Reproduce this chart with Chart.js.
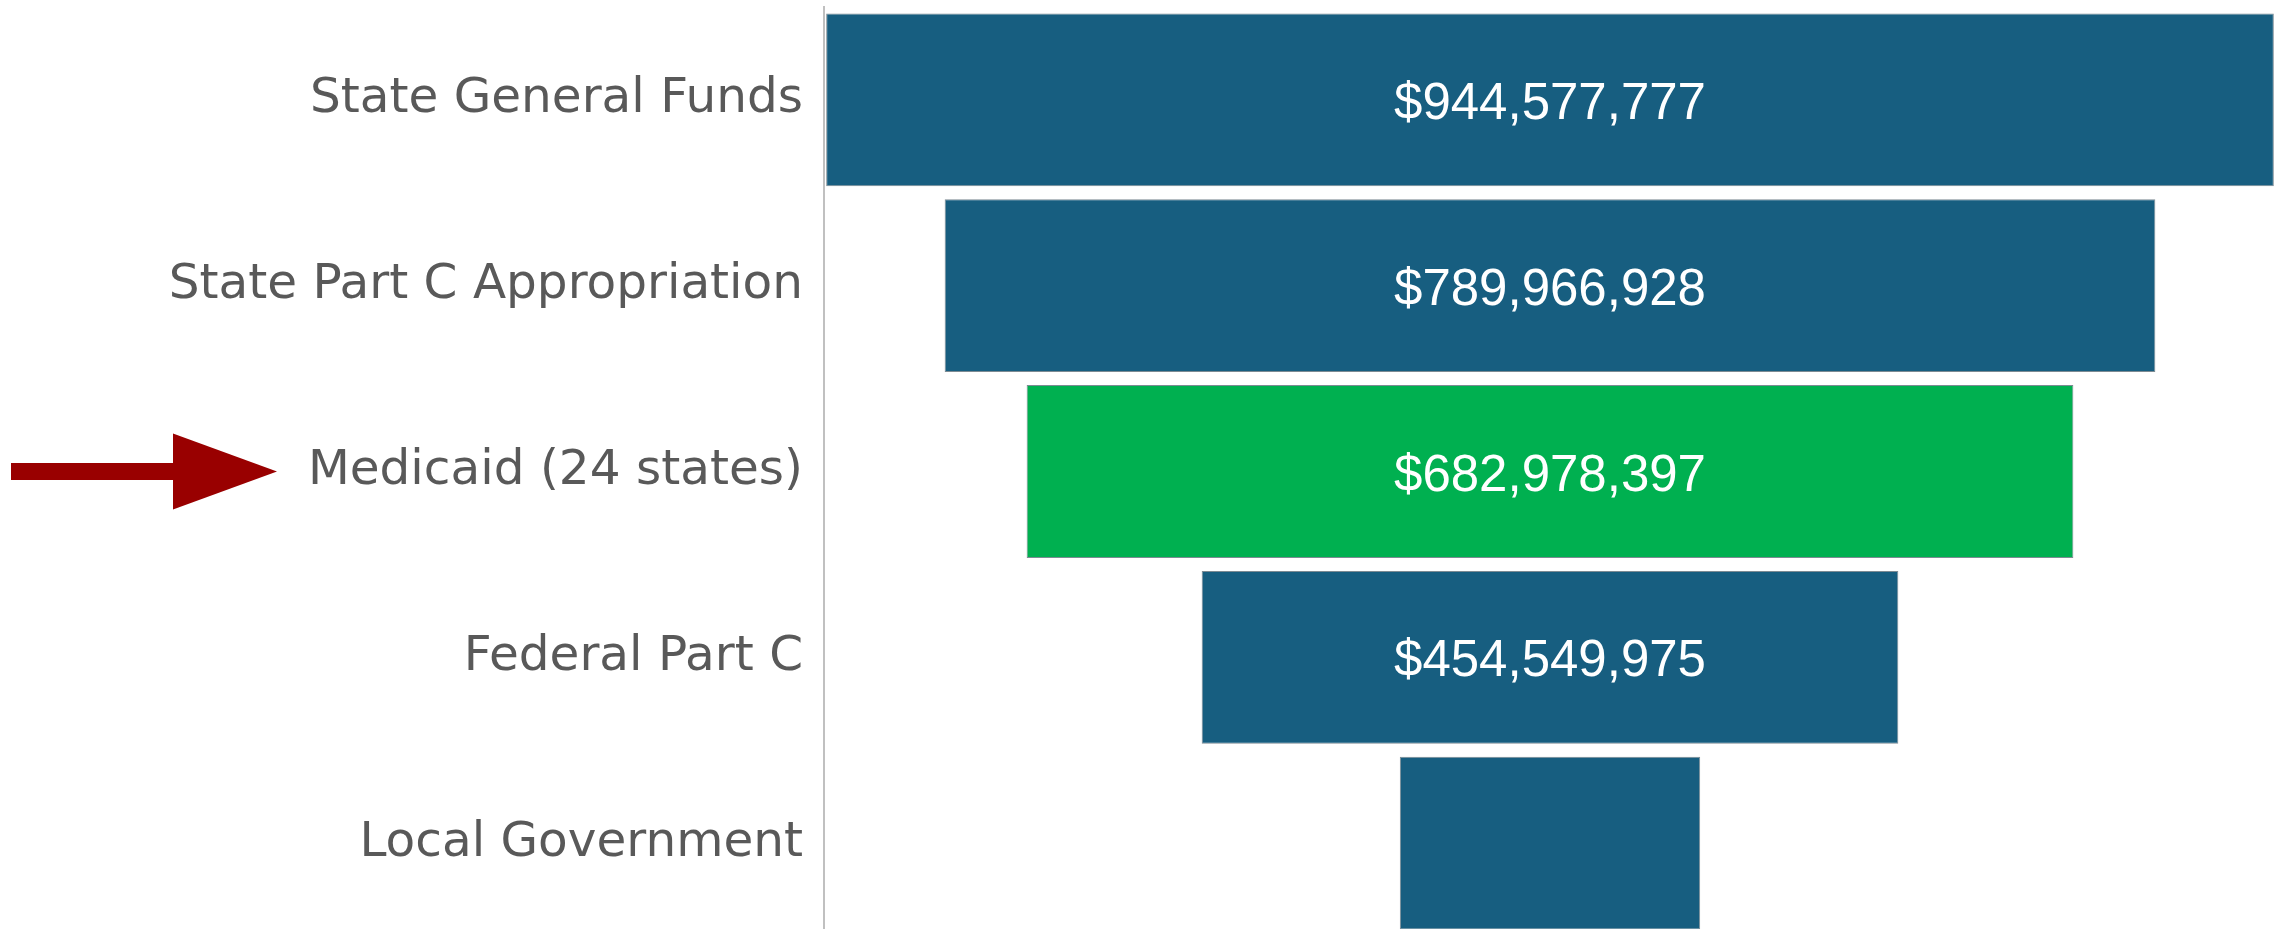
<!DOCTYPE html>
<html>
<head>
 <meta charset="UTF-8">
 <title>Funding Sources Funnel</title>
 <script src="https://cdn.jsdelivr.net/npm/chart.js@4/dist/chart.umd.min.js"></script>
 <style>
  body { margin: 0; background: #ffffff; overflow: hidden; }
  .wrap { position: relative; width: 2280px; height: 936px; }
 </style>
</head>
<body>

<div class="wrap"><canvas id="funnel"></canvas></div>

<script>
 // data (Local Government has no printed value)
 var categories = ["State General Funds", "State Part C Appropriation", "Medicaid (24 states)", "Federal Part C", "Local Government"];
 var amounts = [944577777, 789966928, 682978397, 454549975, 196000000];
 var barColors = ["#175e80", "#175e80", "#00b050", "#175e80", "#175e80"];
 var arrowCategory = "Medicaid (24 states)";

 // each bar floats around zero so the funnel is centred
 var spans = amounts.map(function (v) { return [-v / 2, v / 2]; });
 var half = Math.max.apply(null, amounts) / 2 * 1.003;

 // white dollar labels in the middle of the bars, only where they fit
 var valueLabels = {
  id: "valueLabels",
  afterDatasetsDraw: function (chart) {
   var ctx = chart.ctx;
   var meta = chart.getDatasetMeta(0);
   ctx.save();
   ctx.font = "51px 'Liberation Sans', Arial, sans-serif";
   ctx.fillStyle = "#ffffff";
   ctx.textAlign = "center";
   ctx.textBaseline = "middle";
   meta.data.forEach(function (bar, i) {
    var txt = "$" + amounts[i].toLocaleString("en-US");
    var w = Math.abs(bar.x - bar.base);
    if (ctx.measureText(txt).width + 12 > w) return;
    ctx.fillText(txt, (bar.x + bar.base) / 2, bar.y + 5);
   });
   ctx.restore();
  }
 };

 // red arrow pointing at the highlighted row
 var arrow = {
  id: "arrow",
  afterDraw: function (chart) {
   var ctx = chart.ctx;
   var y = chart.scales.y.getPixelForValue(categories.indexOf(arrowCategory));
   ctx.save();
   ctx.fillStyle = "#990000";
   ctx.fillRect(11, y - 8.5, 164, 17);
   ctx.beginPath();
   ctx.moveTo(173, y - 38);
   ctx.lineTo(277, y);
   ctx.lineTo(173, y + 38);
   ctx.closePath();
   ctx.fill();
   ctx.restore();
  }
 };

 var ctx = document.getElementById("funnel");
 var funnel = new Chart(ctx, {
  type: "bar",
  data: {
   labels: categories,
   datasets: [{
    data: spans,
    backgroundColor: barColors,
    borderColor: "#7d8b93",
    borderWidth: 1,
    borderSkipped: false,
    barPercentage: 0.93,
    categoryPercentage: 1
   }]
  },
  options: {
   indexAxis: "y",
   responsive: true,
   maintainAspectRatio: false,
   animation: false,
   layout: { padding: { top: 7, right: 4, bottom: 0, left: 0 } },
   plugins: { legend: { display: false }, tooltip: { enabled: false } },
   scales: {
    x: { display: false, min: -half, max: half },
    y: {
     afterFit: function (s) { s.width = 824; s.paddingTop = 0; s.paddingBottom = 0; },
     grid: { display: false, drawTicks: false },
     border: { display: true, color: "#c0c0c0", width: 2 },
     ticks: {
      color: "#595959",
      padding: 21,
      font: { family: "'DejaVu Sans', sans-serif", size: 48.5 }
     }
    }
   }
  },
  plugins: [valueLabels, arrow]
 });
</script>

</body>
</html>
